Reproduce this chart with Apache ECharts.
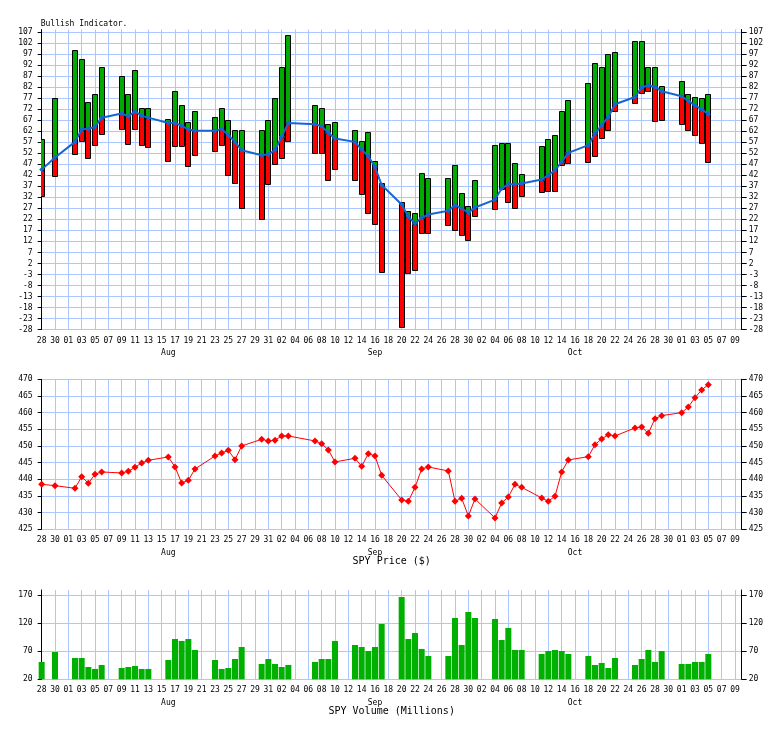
<!DOCTYPE html>
<html><head><meta charset="utf-8">
<script src="https://cdn.jsdelivr.net/npm/echarts@6/dist/echarts.min.js"></script>
<style>html,body{margin:0;padding:0;background:#fff}#c{width:784px;height:729px}</style>
</head><body><div id="c"></div><script>
// ---- data ----
const tradeDays = [
 '07-28','07-30',
 '08-02','08-03','08-04','08-05','08-06',
 '08-09','08-10','08-11','08-12','08-13',
 '08-16','08-17','08-18','08-19','08-20',
 '08-23','08-24','08-25','08-26','08-27',
 '08-30','08-31','09-01','09-02','09-03',
 '09-07','09-08','09-09','09-10',
 '09-13','09-14','09-15','09-16','09-17',
 '09-20','09-21','09-22','09-23','09-24',
 '09-27','09-28','09-29','09-30','10-01',
 '10-04','10-05','10-06','10-07','10-08',
 '10-11','10-12','10-13','10-14','10-15',
 '10-18','10-19','10-20','10-21','10-22',
 '10-25','10-26','10-27','10-28','10-29',
 '11-01','11-02','11-03','11-04','11-05'];
const bullHigh = [
 58.7, 76.9,
 99.1, 95.0, 75.1, 79.1, 91.0,
 86.9, 79.1, 90.0, 72.8, 72.8,
 67.8, 80.2, 74.1, 66.0, 71.0,
 68.7, 72.8, 67.0, 62.8, 62.8,
 62.8, 67.0, 76.9, 91.0, 105.9,
 74.1, 72.8, 65.1, 66.0,
 62.8, 57.8, 61.9, 48.7, 38.6,
 29.7, 25.9, 24.7, 42.9, 41.0,
 41.0, 46.5, 33.8, 28.0, 40.1,
 56.0, 56.9, 56.9, 47.8, 42.8,
 55.2, 58.7, 60.1, 71.0, 76.0,
 84.1, 92.8, 91.0, 96.9, 97.8,
 102.8, 102.8, 91.0, 91.0, 82.8,
 85.0, 79.1, 77.8, 76.9, 79.1];
const bullLow = [
 33.0, 41.8,
 51.9, 57.9, 50.1, 56.0, 61.0,
 62.8, 56.0, 62.8, 56.0, 55.2,
 48.7, 55.2, 55.2, 46.1, 51.1,
 53.0, 56.0, 42.1, 38.8, 27.0,
 22.0, 38.0, 46.9, 50.1, 57.8,
 51.9, 51.9, 40.1, 45.1,
 40.1, 33.8, 24.7, 19.7, -2.1,
 -27.1, -2.1, -1.0, 16.1, 16.1,
 19.7, 17.0, 14.7, 12.9, 23.8,
 27.0, 36.0, 29.7, 27.0, 32.3,
 34.8, 34.8, 34.8, 46.9, 47.8,
 47.8, 51.0, 58.7, 62.8, 71.0,
 75.1, 79.1, 80.1, 66.9, 66.9,
 65.1, 62.8, 60.1, 56.9, 47.8];
const bullMA = [
 44.6, 50.1,
 57.2, 62.8, 63.2, 64.0, 68.2,
 70.1, 68.8, 71.1, 69.0, 68.2,
 65.8, 65.8, 64.5, 62.9, 62.2,
 62.2, 63.1, 60.2, 57.2, 53.4,
 51.1, 51.6, 53.4, 59.5, 65.8,
 65.2, 64.3, 61.3, 58.7,
 57.2, 53.7, 50.7, 45.8, 37.6,
 28.8, 23.2, 20.1, 22.7, 24.2,
 25.9, 28.5, 27.0, 25.0, 27.4,
 31.0, 36.0, 38.0, 38.0, 38.3,
 40.1, 42.1, 44.3, 48.1, 52.2,
 55.7, 61.0, 64.8, 68.5, 74.3,
 77.6, 81.9, 82.9, 82.2, 80.2,
 77.9, 75.8, 73.8, 71.9, 69.8];
const spyPrice = [
 438.5, 438.1,
 437.3, 440.8, 438.8, 441.5, 442.2,
 441.9, 442.4, 443.6, 444.9, 445.7,
 446.7, 443.7, 438.9, 439.7, 443.1,
 447.0, 447.9, 448.7, 445.9, 450.0,
 452.0, 451.5, 451.7, 453.0, 453.0,
 451.5, 450.7, 448.8, 445.2,
 446.3, 443.9, 447.7, 447.0, 441.2,
 433.8, 433.4, 437.6, 443.1, 443.7,
 442.5, 433.4, 434.3, 429.0, 434.1,
 428.4, 432.9, 434.7, 438.5, 437.6,
 434.4, 433.4, 434.9, 442.2, 445.8,
 446.8, 450.4, 452.1, 453.4, 453.0,
 455.4, 455.7, 453.8, 458.2, 459.1,
 460.0, 461.7, 464.5, 466.8, 468.4];
const spyVolume = [
 51.0, 68.8,
 58.1, 58.1, 42.0, 38.5, 45.6,
 40.2, 42.0, 43.8, 38.5, 38.5,
 54.5, 92.0, 88.5, 92.0, 72.4,
 54.5, 38.5, 40.2, 56.3, 77.7,
 47.4, 56.3, 47.4, 42.0, 45.6,
 51.0, 56.3, 56.3, 88.5,
 81.3, 77.7, 70.6, 77.7, 118.8,
 167.0, 92.0, 102.7, 74.2, 61.7,
 61.7, 129.5, 81.3, 140.2, 129.5,
 127.7, 90.2, 111.7, 72.4, 72.4,
 65.2, 70.6, 72.4, 70.6, 65.2,
 61.7, 45.6, 49.2, 40.2, 58.1,
 45.6, 56.3, 72.4, 51.0, 70.6,
 47.4, 47.4, 51.0, 51.0, 65.2];
const bullTicks = [-28,-23,-18,-13,-8,-3,2,7,12,17,22,27,32,37,42,47,52,57,62,67,72,77,82,87,92,97,102,107];
const priceTicks = [425,430,435,440,445,450,455,460,465,470];
const volumeTicks = [20,70,120,170];
const monthLabels = {'08-16':'Aug','09-16':'Sep','10-16':'Oct'};

// ---- axis categories: every calendar day Jul 28 .. Nov 10 ----
const cats = [];
for (let d = new Date(2021, 6, 28); d <= new Date(2021, 10, 10); d.setDate(d.getDate() + 1)) {
  cats.push(String(d.getMonth() + 1).padStart(2, '0') + '-' + String(d.getDate()).padStart(2, '0'));
}

const gridColor = '#aac8ff';
const mono = 'DejaVu Sans Mono';
const green = '#00aa00';

function xAxesFor(g) {
  return [
    {type:'category', gridIndex:g, data:cats, boundaryGap:false, position:'bottom',
     axisLine:{show:false, onZero:false}, axisTick:{show:false},
     axisLabel:{interval:1, formatter:v => v.slice(3), fontFamily:mono, fontSize:8, color:'#000', margin:7},
     splitLine:{show:true, interval:1, lineStyle:{color:gridColor, width:1}}},
    {type:'category', gridIndex:g, data:cats, boundaryGap:false, position:'bottom',
     axisLine:{show:false, onZero:false}, axisTick:{show:false}, splitLine:{show:false},
     axisLabel:{interval:0, formatter:v => monthLabels[v] || '', fontFamily:mono, fontSize:8, color:'#000', margin:19.5}}
  ];
}
function yAxesFor(g, min, max, interval, ticks) {
  const fmt = v => ticks.indexOf(Math.round(v * 1000) / 1000) >= 0 ? String(Math.round(v)) : '';
  const colors = Array(ticks.length).fill(gridColor).concat(['rgba(0,0,0,0)']);
  const base = {type:'value', gridIndex:g, min:min, max:max, interval:interval,
    axisLine:{show:true, onZero:false, lineStyle:{color:'#000', width:1}}};
  return [
    Object.assign({}, base, {position:'left',
      axisTick:{show:true, length:4, customValues:ticks, lineStyle:{color:'#000'}},
      axisLabel:{customValues:ticks, formatter:fmt, fontFamily:mono, fontSize:8, color:'#000', margin:9, padding:[0,0,5,0]},
      splitLine:{show:true, lineStyle:{color:colors, width:1}}}),
    Object.assign({}, base, {position:'right',
      axisTick:{show:true, length:5, customValues:ticks, lineStyle:{color:'#000'}},
      axisLabel:{customValues:ticks, formatter:fmt, fontFamily:mono, fontSize:8, color:'#000', margin:7, padding:[0,0,5,0]},
      splitLine:{show:false}})
  ];
}

const chart = echarts.init(document.getElementById('c'), null, {renderer:'canvas', width:784, height:729});
chart.setOption({
  animation:false,
  backgroundColor:'#fff',
  grid:[
    {left:41.67, top:29.5, width:700, height:300},
    {left:41.67, top:379.3, width:700, height:150},
    {left:41.67, top:590, width:700, height:89.3}
  ],
  xAxis:[].concat(xAxesFor(0), xAxesFor(1), xAxesFor(2)),
  yAxis:[].concat(
    yAxesFor(0, -28, 108.23, 5, bullTicks),
    yAxesFor(1, 425, 470, 5, priceTicks),
    yAxesFor(2, 20, 179.5, 50, volumeTicks)),
  graphic:[
    {type:'text', x:40.7, y:24.3, style:{text:'Bullish Indicator.', font:'8px "DejaVu Sans Mono"', fill:'#000', textAlign:'left', textVerticalAlign:'middle'}},
    {type:'text', x:391.7, y:561.5, style:{text:'SPY Price ($)', font:'10px "DejaVu Sans Mono"', fill:'#000', textAlign:'center', textVerticalAlign:'middle'}},
    {type:'text', x:391.7, y:711.7, style:{text:'SPY Volume (Millions)', font:'10px "DejaVu Sans Mono"', fill:'#000', textAlign:'center', textVerticalAlign:'middle'}}
  ],
  series:[
    {type:'custom', xAxisIndex:0, yAxisIndex:0, z:2, clip:true,
     encode:{x:0, y:[1,2,3]},
     data:tradeDays.map((d, i) => [d, bullHigh[i], bullLow[i], bullMA[i]]),
     renderItem:function (params, api) {
       const xi = api.value(0), hi = api.value(1), lo = api.value(2), ma = api.value(3);
       const pHi = api.coord([xi, hi]);
       const x = Math.round(pHi[0] - 3) + 0.5;
       const w = 5;
       const children = [];
       if (hi > ma) {
         const yTop = pHi[1];
         const yBot = api.coord([xi, Math.max(lo, ma)])[1];
         children.push({type:'rect', shape:{x:x, y:Math.round(yTop) + 0.5, width:w, height:Math.round(yBot - yTop)},
           style:{fill:green, stroke:'#000', lineWidth:1}});
       }
       if (lo < ma) {
         const yTop = api.coord([xi, Math.min(hi, ma)])[1];
         const yBot = api.coord([xi, lo])[1];
         children.push({type:'rect', shape:{x:x, y:Math.round(yTop) + 0.5, width:w, height:Math.round(yBot - yTop)},
           style:{fill:'#ff0000', stroke:'#000', lineWidth:1}});
       }
       return {type:'group', children:children};
     }},
    {type:'line', xAxisIndex:0, yAxisIndex:0, z:3,
     data:tradeDays.map((d, i) => [d, bullMA[i]]),
     lineStyle:{color:'#1466d2', width:2}, itemStyle:{color:'#1466d2'},
     symbol:'diamond', symbolSize:5, showSymbol:true, showAllSymbol:true},
    {type:'line', xAxisIndex:2, yAxisIndex:2, z:3,
     data:tradeDays.map((d, i) => [d, spyPrice[i]]),
     lineStyle:{color:'#ff0000', width:1}, itemStyle:{color:'#ff0000'},
     symbol:'diamond', symbolSize:7, showSymbol:true, showAllSymbol:true},
    {type:'bar', xAxisIndex:4, yAxisIndex:4, clip:true, barWidth:6,
     data:tradeDays.map((d, i) => [d, spyVolume[i]]),
     itemStyle:{color:'#00b000'}}
  ]
});
</script></body></html>
